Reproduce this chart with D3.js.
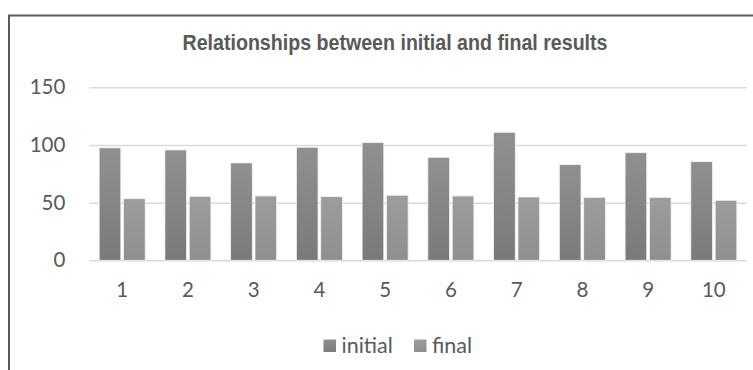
<!DOCTYPE html>
<html><head><meta charset="utf-8">
<script src="https://cdn.jsdelivr.net/npm/d3@7"></script>
<style>body{margin:0;background:#fff}svg{display:block}</style>
</head><body>
<script>
const categories = ["1","2","3","4","5","6","7","8","9","10"];
const initialValues = [97.5, 95.7, 84.4, 98, 102, 89.3, 111, 82.9, 93.3, 85.5];
const finalValues = [53.4, 55.5, 55.8, 55.2, 56.4, 55.8, 54.9, 54.6, 54.6, 52];
const seriesNames = ["initial", "final"];
const yTicks = [0, 50, 100, 150];
const title = "Relationships between initial and final results";

const W = 753, H = 370;
const svg = d3.select("body").append("svg").attr("width", W).attr("height", H);
const defs = svg.append("defs");
const gradInfo = [["gInit", "#909093", "#7a7a7d"], ["gFin", "#9d9da0", "#8f8f92"]];
gradInfo.forEach(([id, c1, c2]) => {
  const g = defs.append("linearGradient").attr("id", id).attr("x1", 0).attr("y1", 0).attr("x2", 0).attr("y2", 1);
  g.append("stop").attr("offset", "0%").attr("stop-color", c1);
  g.append("stop").attr("offset", "100%").attr("stop-color", c2);
});
const fills = ["url(#gInit)", "url(#gFin)"];

// frame
svg.append("rect").attr("x", 9).attr("y", 15.5).attr("width", 800).attr("height", 400)
  .attr("fill", "none").attr("stroke", "#595959").attr("stroke-width", 2);

svg.append("text").attr("x", 395).attr("y", 49.5).attr("text-anchor", "middle")
  .attr("font-family", "'Liberation Sans', Arial, sans-serif").attr("font-weight", "bold")
  .attr("font-size", 22).attr("fill", "#595959")
  .attr("textLength", 425).attr("lengthAdjust", "spacingAndGlyphs").text(title);

const x0 = d3.scaleBand().domain(categories).range([89.3, 746.7]).paddingInner(0.3).paddingOuter(0.15);
const x1 = d3.scaleBand().domain(seriesNames).range([0, x0.bandwidth()]).paddingInner(0.11);
const y = d3.scaleLinear().domain([0, 150]).range([260.3, 87.3]);

const font = "Lato, 'Open Sans', sans-serif";
const yAxis = svg.append("g").attr("transform", "translate(89.3,0)")
  .call(d3.axisLeft(y).tickValues(yTicks).tickSize(-(746.7 - 89.3)).tickPadding(24));
yAxis.select(".domain").remove();
yAxis.selectAll(".tick line").attr("stroke", "#d9d9d9").attr("stroke-width", 1.5);
yAxis.selectAll(".tick text").attr("font-family", font).attr("font-size", 20.5).attr("fill", "#595959");

const xAxis = svg.append("g").attr("transform", "translate(0,260.3)")
  .call(d3.axisBottom(x0).tickSize(0).tickPadding(22));
xAxis.select(".domain").remove();
xAxis.selectAll(".tick text").attr("font-family", font).attr("font-size", 20.5).attr("fill", "#595959");

const data = categories.map((c, i) => ({c, vals: [initialValues[i], finalValues[i]]}));
const groups = svg.append("g").selectAll("g").data(data).join("g")
  .attr("transform", d => `translate(${x0(d.c)},0)`);
groups.selectAll("rect").data(d => d.vals.map((v, j) => ({v, s: seriesNames[j], j})))
  .join("rect")
  .attr("x", d => x1(d.s)).attr("width", x1.bandwidth())
  .attr("y", d => y(d.v)).attr("height", d => y(0) - y(d.v))
  .attr("fill", d => fills[d.j]).attr("stroke", "#f2f2f2").attr("stroke-width", 0.8);

// legend
const legendX = [323.5, 414];
const lg = svg.append("g");
seriesNames.forEach((s, i) => {
  lg.append("rect").attr("x", legendX[i]).attr("y", 339.5).attr("width", 12.5).attr("height", 12.5).attr("fill", fills[i]);
  lg.append("text").attr("x", legendX[i] + 18).attr("y", 352.5).attr("font-family", font)
    .attr("font-size", 21.5).attr("fill", "#595959").text(s);
});
</script>
</body></html>
